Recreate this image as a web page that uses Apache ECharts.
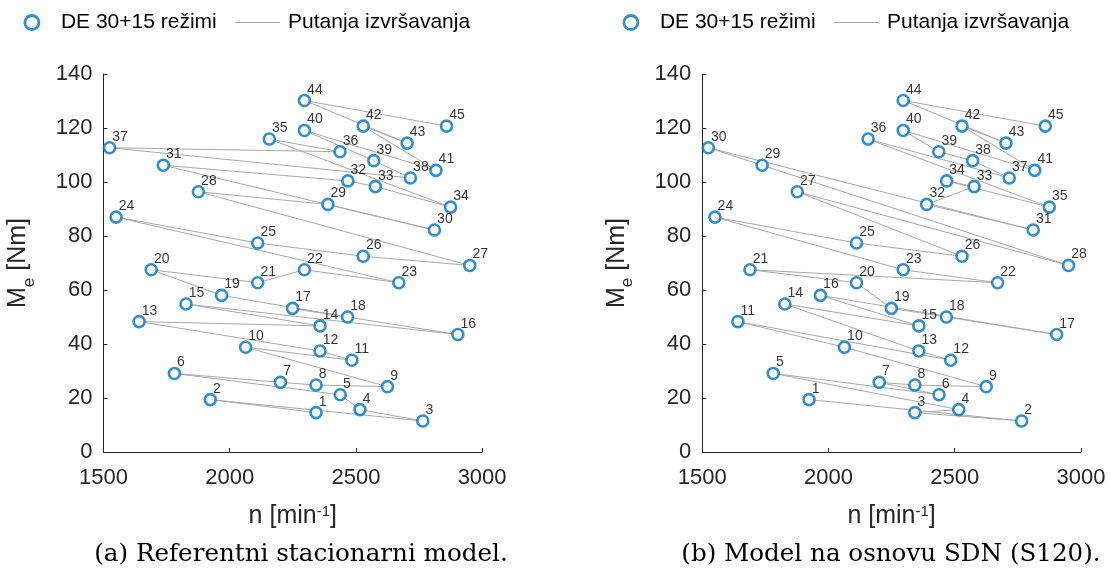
<!DOCTYPE html>
<html>
<head>
<meta charset="utf-8">
<script src="https://cdn.jsdelivr.net/npm/echarts@6/dist/echarts.min.js"></script>
<style>
  html, body { margin: 0; padding: 0; background: #ffffff; }
  #chart { width: 1111px; height: 573px; }
</style>
</head>
<body>
<div id="chart"></div>
<script>
// 45 operating regimes (30+15), listed in the execution order of the reference model
const regimeSpeed = [
  2342, 1923, 2765, 2516, 2438, 1781, 2201, 2342, 2625, 2063,
  2484, 2358, 1641, 2358, 1827, 2904, 2249, 2467, 1968, 1689,
  2111, 2296, 2670, 1550, 2111, 2529, 2951, 1876, 2389, 2811,
  1737, 2468, 2577, 2875, 2157, 2437, 1524, 2716, 2571, 2296,
  2817, 2529, 2703, 2296, 2859
];
const regimeTorque = [
  14.6, 19.4, 11.5, 15.7, 21.2, 29.1, 25.8, 24.8, 24.2, 38.8,
  34.0, 37.4, 48.3, 46.7, 54.8, 43.5, 53.2, 50.0, 58.0, 67.5,
  62.7, 67.5, 62.7, 87.0, 77.4, 72.5, 69.1, 96.4, 91.7, 82.2,
  106.2, 100.4, 98.3, 90.7, 115.9, 111.2, 112.7, 101.5, 107.9, 119.1,
  104.3, 120.7, 114.4, 130.2, 120.7
];

// execution order (regime numbers) for each model
const orderA = [
  1, 2, 3, 4, 5, 6, 7, 8, 9, 10, 11, 12, 13, 14, 15, 16, 17, 18, 19, 20,
  21, 22, 23, 24, 25, 26, 27, 28, 29, 30, 31, 32, 33, 34, 35, 36, 37, 38, 39, 40,
  41, 42, 43, 44, 45
];
const orderB = [
  2, 3, 1, 4, 6, 5, 7, 8, 9, 10, 13, 11, 12, 15, 14, 19, 16, 18, 17, 21,
  20, 23, 22, 24, 25, 26, 28, 27, 31, 37, 30, 29, 33, 32, 34, 35, 38, 39, 36, 40,
  41, 42, 43, 44, 45
];

const xTicks = [1500, 2000, 2500, 3000];
const yTicks = [0, 20, 40, 60, 80, 100, 120, 140];
const pointsName = 'DE 30+15 režimi';
const pathName = 'Putanja izvršavanja';
const captions = ['(a) Referentni stacionarni model.', '(b) Model na osnovu SDN (S120).'];

const SANS = 'Liberation Sans, Arial, sans-serif';
const AXIS_COLOR = '#262626';
const MARK_COLOR = '#0072BD';
const PATH_COLOR = '#a8a8a8';

// panel geometry
const panels = [
  { left: 103.5, markLegend: 18.5, pathLegend: 230, captionX: 301 },
  { left: 702.3, markLegend: 617.5, pathLegend: 829, captionX: 891 }
];
const plotTop = 74, plotWidth = 378.6, plotHeight = 378;

function pathData(order) {
  return order.map(r => [regimeSpeed[r - 1], regimeTorque[r - 1]]);
}
function pointData(order) {
  return order.map((r, k) => [regimeSpeed[r - 1], regimeTorque[r - 1], k + 1]);
}

const orders = [orderA, orderB];

const grid = panels.map(p => ({
  left: p.left, top: plotTop, width: plotWidth, height: plotHeight
}));

const xAxis = panels.map((p, i) => ({
  type: 'value', gridIndex: i,
  min: xTicks[0], max: xTicks[xTicks.length - 1], interval: xTicks[1] - xTicks[0],
  name: '{t|n [min}{sup|-1}{t|]}',
  nameLocation: 'middle', nameGap: 52,
  nameTextStyle: {
    color: AXIS_COLOR, fontFamily: SANS, fontSize: 25,
    rich: {
      t: { fontFamily: SANS, fontSize: 25, color: AXIS_COLOR },
      sup: { fontFamily: SANS, fontSize: 15, color: AXIS_COLOR, verticalAlign: 'top' }
    }
  },
  axisLine: { show: true, onZero: false, lineStyle: { color: AXIS_COLOR, width: 1 } },
  axisTick: { show: true, inside: true, length: 4, lineStyle: { color: AXIS_COLOR, width: 1 } },
  axisLabel: {
    color: AXIS_COLOR, fontFamily: SANS, fontSize: 22, margin: 15,
    formatter: v => String(v)
  },
  splitLine: { show: false }
}));

const yAxis = panels.map((p, i) => ({
  type: 'value', gridIndex: i,
  min: yTicks[0], max: yTicks[yTicks.length - 1], interval: yTicks[1] - yTicks[0],
  name: '{t|M}{sub|e}{t| [Nm]}',
  nameLocation: 'middle', nameGap: 66, nameRotate: 90,
  nameTextStyle: {
    color: AXIS_COLOR, fontFamily: SANS, fontSize: 25,
    rich: {
      t: { fontFamily: SANS, fontSize: 25, lineHeight: 32, color: AXIS_COLOR, verticalAlign: 'top' },
      sub: { fontFamily: SANS, fontSize: 17, lineHeight: 17, color: AXIS_COLOR, verticalAlign: 'bottom' }
    }
  },
  axisLine: { show: true, onZero: false, lineStyle: { color: AXIS_COLOR, width: 1 } },
  axisTick: { show: true, inside: true, length: 4, lineStyle: { color: AXIS_COLOR, width: 1 } },
  axisLabel: {
    color: AXIS_COLOR, fontFamily: SANS, fontSize: 22, margin: 11,
    formatter: v => String(v)
  },
  splitLine: { show: false }
}));

const series = [];
orders.forEach((order, i) => {
  series.push({
    name: pathName, type: 'line',
    xAxisIndex: i, yAxisIndex: i,
    data: pathData(order),
    symbol: 'none', showSymbol: false,
    lineStyle: { color: PATH_COLOR, width: 1 },
    itemStyle: { color: PATH_COLOR },
    z: 2, silent: true
  });
  series.push({
    name: pointsName, type: 'scatter',
    xAxisIndex: i, yAxisIndex: i,
    data: pointData(order),
    symbol: 'circle', symbolSize: 11,
    itemStyle: { color: '#ffffff', borderColor: MARK_COLOR, borderWidth: 2.6 },
    label: {
      show: true,
      formatter: prm => String(prm.value[2]),
      position: [9.5, 3],
      align: 'left', verticalAlign: 'bottom',
      color: '#000000', fontFamily: SANS, fontSize: 14
    },
    z: 3
  });
});

const legendText = { color: '#000000', fontFamily: SANS, fontSize: 21 };
const legend = [];
panels.forEach(p => {
  legend.push({
    left: p.markLegend, top: 7,
    itemWidth: 14, itemHeight: 14,
    selectedMode: false,
    itemStyle: { color: '#ffffff', borderColor: MARK_COLOR, borderWidth: 2.8 },
    textStyle: Object.assign({ padding: [0, 0, 0, 17] }, legendText),
    data: [{ name: pointsName, icon: 'circle' }]
  });
  legend.push({
    left: p.pathLegend, top: 7,
    itemWidth: 45, itemHeight: 14,
    selectedMode: false,
    textStyle: Object.assign({ padding: [0, 0, 0, 3] }, legendText),
    data: [{ name: pathName, icon: 'path://M0,0H45V1H0Z' }]
  });
});

const graphic = panels.map((p, i) => ({
  type: 'text',
  x: p.captionX, y: 555,
  style: {
    text: captions[i], fill: '#000000',
    font: '24.6px "DejaVu Serif", serif',
    align: 'center', verticalAlign: 'middle'
  }
}));

const chart = echarts.init(document.getElementById('chart'), null, { renderer: 'canvas' });
chart.setOption({
  animation: false,
  backgroundColor: '#ffffff',
  grid, xAxis, yAxis, series, legend, graphic
});
</script>
</body>
</html>
